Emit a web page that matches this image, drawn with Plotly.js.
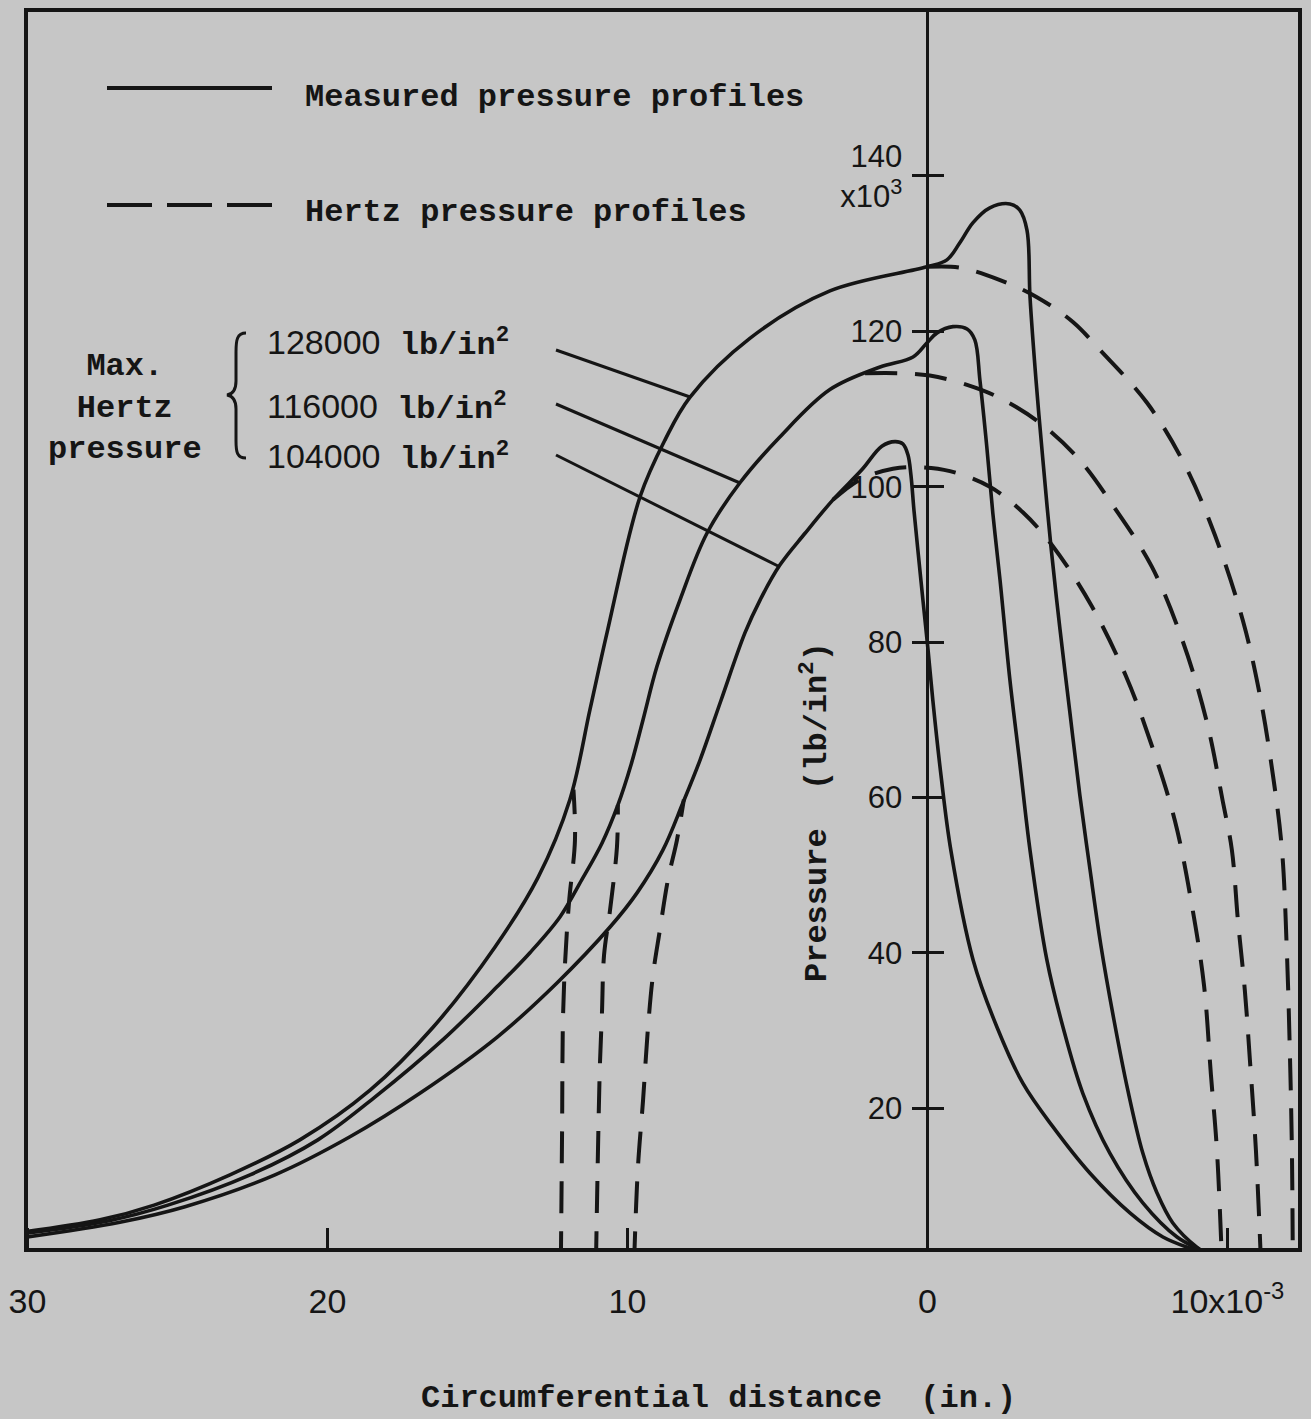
<!DOCTYPE html>
<html><head><meta charset="utf-8">
<script src="https://cdn.plot.ly/plotly-3.0.1.min.js"></script>
<style>html,body{margin:0;padding:0;background:#c6c6c6;} #chart{width:1311px;height:1419px;}</style>
</head><body><div id="chart"></div>
<script>
// Circumferential distance in 10^-3 in. ; pressure in 10^3 lb/in^2
// Measured pressure profiles
const measured128X = [30.2, 27.58, 25.78, 23.25, 20.92, 18.58, 16.48, 14.42, 12.98, 11.92, 11.25, 10.68, 9.58, 8.75, 7.92, 5.92, 3.25, 0.02, -0.65, -1.08, -1.52, -2.08, -2.75, -3.08, -3.32, -3.42, -3.62, -3.85, -4.12, -4.42, -4.75, -5.08, -5.42, -5.78, -6.22, -6.68, -7.18, -7.65, -8.18, -8.98, -9.9];
const measured128Y = [4.0, 5.6, 7.5, 11.4, 15.9, 22.3, 30.4, 40.7, 49.7, 59.7, 71.3, 81.2, 98.7, 106.0, 111.5, 119.1, 125.2, 128.3, 129.2, 131.4, 134.0, 135.9, 136.4, 135.6, 133.0, 124.4, 113.7, 103.4, 92.2, 81.6, 70.9, 60.3, 50.7, 41.0, 31.3, 22.3, 14.2, 9.1, 5.2, 2.1, 0];

const measured116X = [30.2, 27.28, 25.32, 22.58, 20.32, 18.42, 16.15, 14.35, 13.25, 12.25, 11.52, 10.85, 10.32, 9.88, 9.48, 9.02, 8.25, 7.35, 6.25, 4.92, 3.25, 1.58, 0.48, 0.02, -0.32, -0.85, -1.32, -1.58, -1.75, -1.98, -2.18, -2.42, -2.75, -3.08, -3.42, -3.98, -4.52, -5.18, -6.08, -7.18, -8.32, -9.32, -9.9];
const measured116Y = [3.8, 5.5, 7.5, 11.4, 15.9, 21.4, 28.8, 35.6, 40.0, 44.6, 49.4, 54.1, 59.0, 64.2, 70.0, 76.8, 85.4, 94.0, 100.5, 106.4, 112.5, 115.4, 116.7, 118.5, 119.8, 120.6, 120.3, 118.9, 113.7, 105.1, 96.6, 88.0, 75.1, 64.4, 53.2, 39.1, 30.4, 21.9, 14.2, 7.8, 3.4, 1.3, 0];

const measured104X = [30.2, 26.92, 24.75, 21.75, 19.25, 16.92, 14.35, 12.35, 10.58, 9.68, 8.82, 8.15, 7.58, 6.88, 6.08, 5.58, 4.92, 4.08, 3.15, 2.18, 1.52, 1.08, 0.82, 0.65, 0.55, 0.45, 0.32, 0.15, -0.02, -0.18, -0.45, -0.78, -1.52, -2.32, -3.18, -4.18, -5.42, -6.75, -7.85, -9.18, -9.9];
const measured104Y = [3.3, 5.3, 7.3, 11.4, 16.3, 21.9, 29.1, 36.1, 43.3, 47.7, 53.2, 59.3, 64.8, 72.5, 81.2, 85.4, 89.9, 94.0, 98.3, 102.2, 105.2, 105.8, 105.5, 104.1, 101.5, 97.0, 91.9, 85.4, 79.0, 72.5, 62.9, 53.2, 39.1, 30.4, 23.2, 17.6, 11.6, 6.5, 3.4, 1.3, 0];

// Hertz pressure profiles (visible parts: inlet side, then outlet side)
const hertz128X = [12.22, 12.18, 12.15, 12.08, 11.95, 11.75, 11.8, null, 0.02, -1.08, -2.42, -3.65, -4.85, -5.75, -7.32, -8.58, -9.58, -10.52, -11.08, -11.52, -11.82, -11.98, -12.08, -12.15, -12.18];
const hertz128Y = [0, 16.8, 31.3, 38.7, 46.4, 54.5, 61.0, null, 128.3, 128.2, 126.6, 124.4, 121.2, 117.6, 110.8, 102.8, 93.8, 82.7, 73.2, 62.8, 53.2, 40.4, 27.5, 14.6, 0];

const hertz116X = [11.05, 10.92, 10.85, 10.78, 10.58, 10.35, 10.32, null, 2.08, 0.92, -0.08, -1.32, -2.42, -3.75, -5.08, -6.18, -7.48, -8.52, -9.32, -9.85, -10.15, -10.35, -10.58, -10.75, -10.95, -11.12];
const hertz116Y = [0, 25.3, 32.2, 39.7, 45.5, 53.6, 59.0, null, 114.6, 114.6, 114.3, 113.1, 111.4, 108.2, 103.4, 97.6, 89.7, 80.0, 69.6, 59.4, 53.2, 44.2, 35.2, 26.2, 14.6, 0];

const hertz104X = [9.78, 9.65, 9.48, 9.32, 9.15, 8.92, 8.65, 8.35, 8.12, null, 3.15, 2.25, 1.15, 0.25, -0.75, -2.08, -3.18, -4.15, -5.48, -6.62, -7.45, -8.25, -8.82, -9.22, -9.45, -9.65, -9.82];
const hertz104Y = [0, 12.4, 21.0, 30.1, 37.1, 42.9, 49.4, 54.5, 59.7, null, 98.3, 100.9, 102.3, 102.5, 102.0, 100.0, 96.7, 92.5, 84.6, 75.6, 67.0, 57.0, 46.0, 35.8, 24.3, 14.6, 0];

// Axis ticks
const xTickVals = [30, 20, 10, 0, -10];
const xTickText = ['30', '20', '10', '0', '10x10<sup>-3</sup>'];
const yTickVals = [20, 40, 60, 80, 100, 120, 140];
const yTickText = ['20', '40', '60', '80', '100', '120', '140<br>x10<sup>3</sup>'];

// Labels
const legendLabels = ['Measured pressure profiles', 'Hertz pressure profiles'];
const loadLabels = ['128000', '116000', '104000'];
const groupLabel = ['Max.', 'Hertz', 'pressure'];
const xTitle = 'Circumferential distance  (in.)';
const yTitle = 'Pressure  (lb/in<sup>2</sup>)';

// ---------- layout helpers ----------
const W = 1311, H = 1419;
const M = {l: 26, r: 11, t: 10, b: 169};
const plotW = W - M.l - M.r, plotH = H - M.t - M.b;
const X_RANGE = [30.05, -12.42];
const Y_RANGE = [1.72, 161.37];
const ink = '#151515';
const bg = '#c6c6c6';
const mono = 'Liberation Mono, Courier New, monospace';
const sans = 'Liberation Sans, Arial, sans-serif';
function fx(x) { return (x - M.l) / plotW; }
function fy(y) { return (H - M.b - y) / plotH; }
function P(x, y) { return fx(x).toFixed(5) + ',' + fy(y).toFixed(5); }
const yPos = X_RANGE[0] / (X_RANGE[0] - X_RANGE[1]);

const solid = {color: ink, width: 3.6, shape: 'spline', smoothing: 1.0};
const dashed = {color: ink, width: 4, dash: '32px,18px', shape: 'spline', smoothing: 1.0};

const traces = [
  {x: measured128X, y: measured128Y, name: '128000 measured', mode: 'lines', line: solid},
  {x: measured116X, y: measured116Y, name: '116000 measured', mode: 'lines', line: solid},
  {x: measured104X, y: measured104Y, name: '104000 measured', mode: 'lines', line: solid},
  {x: hertz128X, y: hertz128Y, name: '128000 Hertz', mode: 'lines', line: dashed, yaxis: 'y2', connectgaps: false},
  {x: hertz116X, y: hertz116Y, name: '116000 Hertz', mode: 'lines', line: dashed, yaxis: 'y2', connectgaps: false},
  {x: hertz104X, y: hertz104Y, name: '104000 Hertz', mode: 'lines', line: dashed, yaxis: 'y2', connectgaps: false}
];

function ann(text, x, y, o) {
  return Object.assign({text: text, x: fx(x), y: fy(y), xref: 'paper', yref: 'paper',
    showarrow: false, xanchor: 'left', yanchor: 'middle',
    font: {family: mono, size: 32, color: ink, weight: 'bold'}}, o || {});
}
function loadText(v) {
  return '<span style="font-family:Liberation Sans;font-weight:normal;font-size:34px">' + v + '</span> lb/in<sup>2</sup>';
}

const annotations = [
  ann(legendLabels[0], 303, 98),
  ann(legendLabels[1], 303, 213),
  ann(groupLabel.join('<br>'), 125, 408, {xanchor: 'center', align: 'center'}),
  ann(loadText(loadLabels[0]), 265, 343),
  ann(loadText(loadLabels[1]), 265, 407),
  ann(loadText(loadLabels[2]), 265, 457),
  ann(yTitle, 815, 812, {xanchor: 'center', textangle: -90}),
  ann(xTitle, 718, 1398, {xanchor: 'center'})
];

const lineStyle = {color: ink, width: 3};
function seg(x0, y0, x1, y1, extra) {
  return Object.assign({type: 'line', xref: 'paper', yref: 'paper', x0: fx(x0), y0: fy(y0), x1: fx(x1), y1: fy(y1), line: lineStyle}, extra || {});
}
const bracePath = 'M' + P(246, 333) + ' C' + P(237, 333) + ' ' + P(236, 340) + ' ' + P(236, 352) +
  ' L' + P(236, 381) + ' C' + P(236, 390) + ' ' + P(233, 394) + ' ' + P(227, 395) +
  ' C' + P(233, 396) + ' ' + P(236, 400) + ' ' + P(236, 409) +
  ' L' + P(236, 441) + ' C' + P(236, 452) + ' ' + P(237, 458) + ' ' + P(246, 458);

const shapes = [
  {type: 'rect', xref: 'paper', yref: 'paper', x0: 0, y0: 0, x1: 1, y1: 1, line: {color: ink, width: 4}, layer: 'above'},
  seg(107, 88, 272, 88, {line: {color: ink, width: 4}}),
  seg(107, 205, 272, 205, {line: {color: ink, width: 4, dash: '45px,15px'}}),
  seg(556, 350, 690, 397),
  seg(556, 404, 740, 483),
  seg(556, 455, 778, 566),
  {type: 'path', xref: 'paper', yref: 'paper', path: bracePath, line: {color: ink, width: 3}}
];

const layout = {
  width: W, height: H, autosize: false,
  margin: M,
  paper_bgcolor: bg, plot_bgcolor: bg,
  showlegend: false,
  xaxis: {range: X_RANGE, tickmode: 'array', tickvals: xTickVals, ticktext: xTickText,
    ticks: 'inside', ticklen: 22, tickwidth: 3, tickcolor: ink,
    showline: false, showgrid: false, zeroline: false, ticklabelstandoff: 28,
    tickfont: {family: sans, size: 34, color: ink}, fixedrange: true},
  yaxis: {range: Y_RANGE, anchor: 'free', position: yPos, side: 'left',
    tickmode: 'array', tickvals: yTickVals, ticktext: yTickText,
    ticks: 'outside', ticklen: 14, tickwidth: 3, tickcolor: ink,
    showline: true, linewidth: 3, linecolor: ink,
    showgrid: false, zeroline: false, ticklabelstandoff: 4,
    tickfont: {family: sans, size: 31, color: ink}, fixedrange: true},
  yaxis2: {range: Y_RANGE, overlaying: 'y', anchor: 'free', position: yPos, side: 'left',
    tickmode: 'array', tickvals: yTickVals, ticks: 'inside', ticklen: 16, tickwidth: 3, tickcolor: ink,
    showticklabels: false, showline: false, showgrid: false, zeroline: false, fixedrange: true},
  annotations: annotations,
  shapes: shapes
};

Plotly.newPlot('chart', traces, layout, {staticPlot: true, displayModeBar: false});
</script>
</body></html>
